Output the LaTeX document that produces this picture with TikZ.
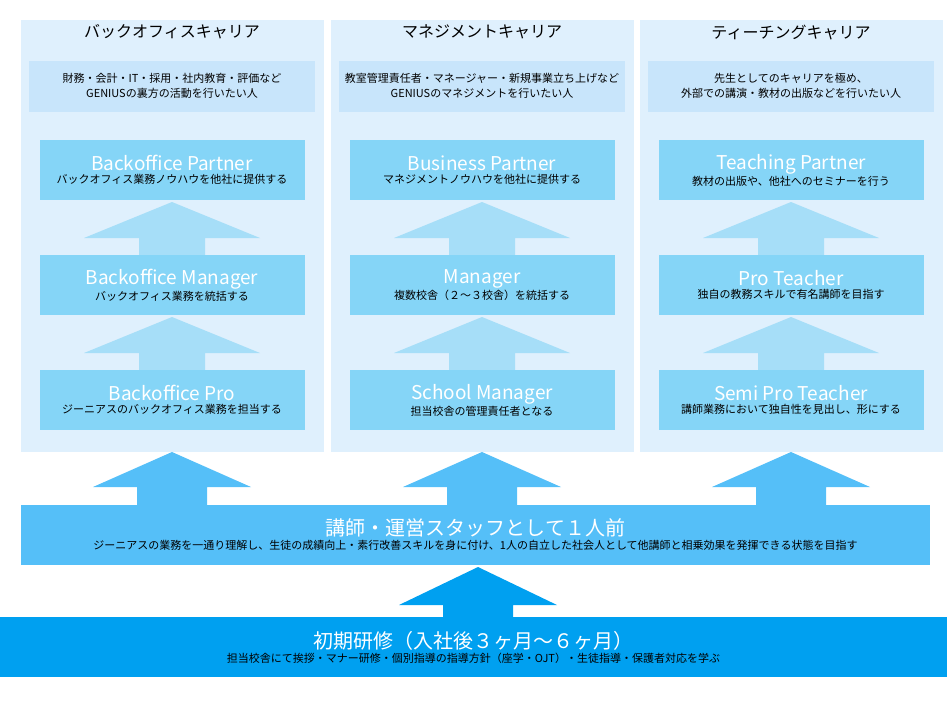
\documentclass[tikz,border=0pt]{standalone}
\usepackage{fontspec}
\setmainfont{Noto Sans CJK JP}
\definecolor{panelbg}{HTML}{DFF0FD}
\definecolor{descbg}{HTML}{C8E5FB}
\definecolor{rolebg}{HTML}{85D5F7}
\definecolor{rolearr}{HTML}{A6DEF8}
\definecolor{bandA}{HTML}{55BFF8}
\definecolor{bandB}{HTML}{00A0F0}
\newcommand{\uparr}[7]{% x, tip, base, bottom, half head, half shaft, colour
  \fill[#7] (#1-#6,#4) -- (#1-#6,#3) -- (#1-#5,#3) -- (#1,#2) -- (#1+#5,#3) -- (#1+#6,#3) -- (#1+#6,#4) -- cycle;}
\begin{document}
\begin{tikzpicture}[x=1pt, y=-1pt]
  \tikzset{
    panel/.style={fill=panelbg, minimum width=303pt, minimum height=432pt, inner sep=0pt},
    desc/.style={fill=descbg, minimum width=286pt, minimum height=51pt, font=\fontsize{11}{15}\selectfont, align=center},
    role/.style={fill=rolebg, minimum width=265pt, minimum height=60pt, align=center, inner sep=0pt},
    title/.style={font=\fontsize{16}{18}\selectfont}
  }
  \useasboundingbox (0,0) rectangle (947,710);

  \foreach \cx/\nm/\ttl/\dsc/\ra/\rsa/\rb/\rsb/\rc/\rsc in {
      172/bo/バックオフィスキャリア/{財務・会計・IT・採用・社内教育・評価など\\GENIUSの裏方の活動を行いたい人}/Backoffice Partner/バックオフィス業務ノウハウを他社に提供する/Backoffice Manager/バックオフィス業務を統括する/Backoffice Pro/ジーニアスのバックオフィス業務を担当する,
      482/mg/マネジメントキャリア/{教室管理責任者・マネージャー・新規事業立ち上げなど\\GENIUSのマネジメントを行いたい人}/Business Partner/マネジメントノウハウを他社に提供する/Manager/複数校舎（２〜３校舎）を統括する/School Manager/担当校舎の管理責任者となる,
      791/te/ティーチングキャリア/{先生としてのキャリアを極め、\\外部での講演・教材の出版などを行いたい人}/Teaching Partner/教材の出版や、他社へのセミナーを行う/Pro Teacher/独自の教務スキルで有名講師を目指す/Semi Pro Teacher/講師業務において独自性を見出し、形にする}{
    \node[panel] (\nm-panel) at (\cx,236) {};
    \node[title] (\nm-title) at (\cx,32) {\ttl};
    \node[desc] (\nm-desc) at (\cx,86) {\dsc};
    \uparr{\cx}{202}{238}{255}{88}{33}{rolearr}
    \uparr{\cx}{317}{353}{370}{88}{33}{rolearr}
    \node[role] (\nm-a) at (\cx,170) {{\fontsize{19}{22}\selectfont\color{white}\ra}\\[1pt]{\fontsize{11}{12}\selectfont\rsa}};
    \node[role] (\nm-b) at (\cx,285) {{\fontsize{19}{22}\selectfont\color{white}\rb}\\[1pt]{\fontsize{11}{12}\selectfont\rsb}};
    \node[role] (\nm-c) at (\cx,400) {{\fontsize{19}{22}\selectfont\color{white}\rc}\\[1pt]{\fontsize{11}{12}\selectfont\rsc}};
    \uparr{\cx}{452}{487}{506}{79}{35}{bandA}
  }

  \node[fill=bandA, minimum width=909pt, minimum height=60pt, align=center, inner sep=0pt] (lead) at (475.5,535)
    {{\fontsize{20}{22}\selectfont\color{white}講師・運営スタッフとして１人前}\\[2pt]
     {\fontsize{11}{12}\selectfont ジーニアスの業務を一通り理解し、生徒の成績向上・素行改善スキルを身に付け、1人の自立した社会人として他講師と相乗効果を発揮できる状態を目指す}};
  \uparr{478}{567}{605}{618}{79}{35}{bandB}
  \node[fill=bandB, minimum width=947pt, minimum height=60pt, align=center, inner sep=0pt] (intro) at (473.5,647)
    {{\fontsize{20}{22}\selectfont\color{white}初期研修（入社後３ヶ月〜６ヶ月）}\\[2pt]
     {\fontsize{11}{12}\selectfont 担当校舎にて挨拶・マナー研修・個別指導の指導方針（座学・OJT）・生徒指導・保護者対応を学ぶ}};
\end{tikzpicture}
\end{document}
